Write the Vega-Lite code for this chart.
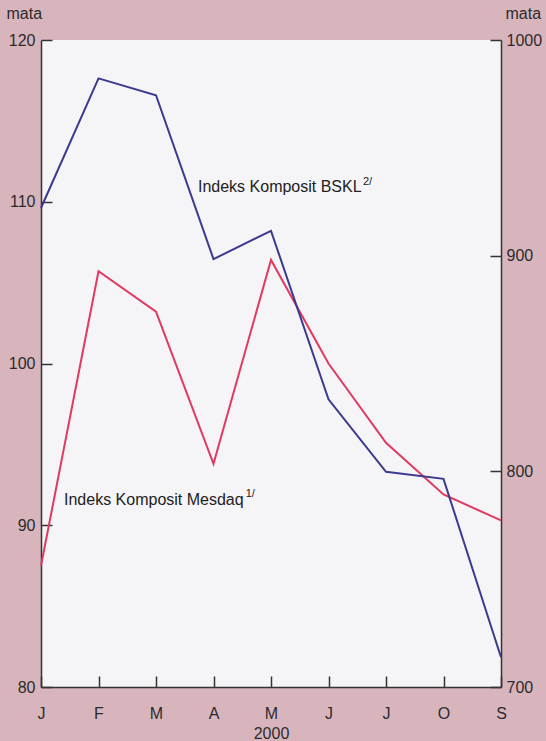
{
  "$schema": "https://vega.github.io/schema/vega-lite/v6.json",
  "width": 460,
  "height": 647,
  "autosize": {"type": "none"},
  "padding": {"left": 41, "top": 40, "right": 45, "bottom": 54},
  "background": "#d8b5bd",
  "config": {
    "view": {"stroke": null, "fill": "#f5f4f6"},
    "font": "Liberation Sans",
    "axis": {
      "grid": false,
      "domainColor": "#333333",
      "domainWidth": 1.5,
      "tickColor": "#333333",
      "tickWidth": 1.5,
      "tickSize": -11,
      "labelFont": "Liberation Sans",
      "labelFontSize": 16,
      "labelColor": "#2b2b2b",
      "titleFont": "Liberation Sans",
      "titleFontSize": 16,
      "titleFontWeight": "normal",
      "titleColor": "#2b2b2b",
      "labelFlush": false,
      "labelOverlap": false,
      "labelBound": false
    }
  },
  "datasets": {
    "indeks": [
      {"i": 0, "bulan": "J", "mesdaq": 87.5, "bskl": 922.1},
      {"i": 1, "bulan": "F", "mesdaq": 105.7, "bskl": 982.2},
      {"i": 2, "bulan": "M", "mesdaq": 103.2, "bskl": 974.4},
      {"i": 3, "bulan": "A", "mesdaq": 93.8, "bskl": 898.4},
      {"i": 4, "bulan": "M", "mesdaq": 106.4, "bskl": 911.5},
      {"i": 5, "bulan": "J", "mesdaq": 100.0, "bskl": 833.4},
      {"i": 6, "bulan": "J", "mesdaq": 95.1, "bskl": 799.8},
      {"i": 7, "bulan": "O", "mesdaq": 91.9, "bskl": 796.5},
      {"i": 8, "bulan": "S", "mesdaq": 90.3, "bskl": 713.8}
    ]
  },
  "layer": [
    {
      "layer": [
        {
          "data": {"name": "indeks"},
          "mark": {"type": "line", "color": "#e03a63", "strokeWidth": 2},
          "encoding": {
            "x": {
              "field": "i",
              "type": "quantitative",
              "scale": {"domain": [0, 8], "nice": false, "zero": false},
              "axis": {
                "title": "2000",
                "values": [0, 1, 2, 3, 4, 5, 6, 7, 8],
                "labelExpr": "['J','F','M','A','M','J','J','O','S'][datum.value]",
                "labelPadding": 29,
                "titlePadding": 4
              }
            },
            "y": {
              "field": "mesdaq",
              "type": "quantitative",
              "scale": {"domain": [80, 120], "nice": false, "zero": false},
              "axis": {
                "orient": "left",
                "title": "mata",
                "titleAngle": 0,
                "titleAlign": "left",
                "titleBaseline": "middle",
                "titleX": -35,
                "titleY": -27,
                "values": [80, 90, 100, 110, 120],
                "labelPadding": 17
              }
            }
          }
        },
        {
          "data": {"values": [{"label": "Indeks Komposit BSKL"}]},
          "mark": {"type": "text", "align": "left", "baseline": "alphabetic", "fontSize": 16, "color": "#222222"},
          "encoding": {
            "x": {"datum": 2.73},
            "y": {"datum": 110.6},
            "text": {"field": "label"}
          }
        },
        {
          "data": {"values": [{"label": "2/"}]},
          "mark": {"type": "text", "align": "left", "baseline": "alphabetic", "fontSize": 11, "color": "#222222"},
          "encoding": {
            "x": {"datum": 5.6},
            "y": {"datum": 111.05},
            "text": {"field": "label"}
          }
        },
        {
          "data": {"values": [{"label": "Indeks Komposit Mesdaq"}]},
          "mark": {"type": "text", "align": "left", "baseline": "alphabetic", "fontSize": 16, "color": "#222222"},
          "encoding": {
            "x": {"datum": 0.4},
            "y": {"datum": 91.25},
            "text": {"field": "label"}
          }
        },
        {
          "data": {"values": [{"label": "1/"}]},
          "mark": {"type": "text", "align": "left", "baseline": "alphabetic", "fontSize": 11, "color": "#222222"},
          "encoding": {
            "x": {"datum": 3.56},
            "y": {"datum": 91.75},
            "text": {"field": "label"}
          }
        }
      ]
    },
    {
      "data": {"name": "indeks"},
      "mark": {"type": "line", "color": "#3b3a8e", "strokeWidth": 2},
      "encoding": {
        "x": {"field": "i", "type": "quantitative"},
        "y": {
          "field": "bskl",
          "type": "quantitative",
          "scale": {"domain": [700, 1000], "nice": false, "zero": false},
          "axis": {
            "orient": "right",
            "title": "mata",
            "titleAngle": 0,
            "titleAlign": "left",
            "titleBaseline": "middle",
            "titleX": 4,
            "titleY": -27,
            "values": [700, 800, 900, 1000],
            "format": "d",
            "labelPadding": 16
          }
        }
      }
    }
  ],
  "resolve": {"scale": {"y": "independent"}}
}
